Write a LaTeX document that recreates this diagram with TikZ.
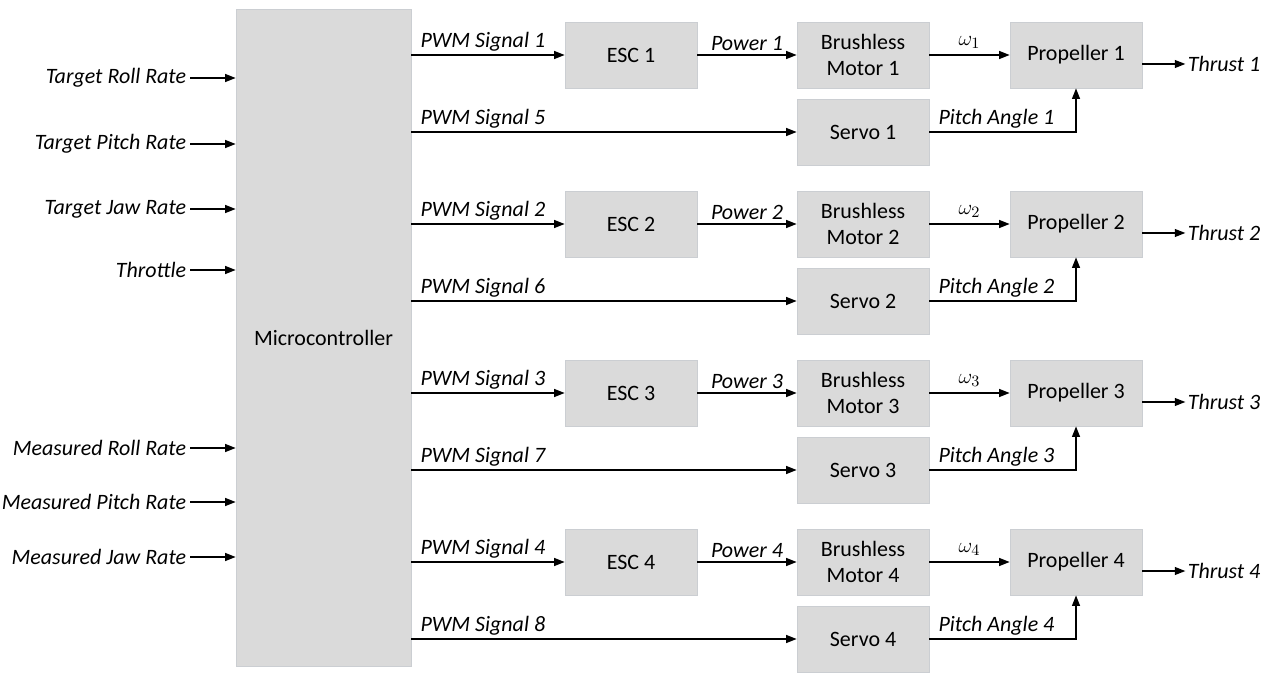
\documentclass[tikz,border=0pt]{standalone}
\usepackage{fontspec}
\setmainfont{Carlito}
\usetikzlibrary{arrows.meta, positioning}
\definecolor{boxgray}{RGB}{218,218,218}
\definecolor{edgegray}{RGB}{203,206,210}

\begin{document}
\begin{tikzpicture}[
x=0.02 cm,
y=-0.02 cm,
font=\fontsize{12.5}{14.8}\selectfont,
block/.style={
rectangle,
fill=boxgray,
draw=edgegray,
minimum width=2.64 cm,
minimum height=1.32 cm,
align=center,
inner sep=0 pt,
},
sig/.style={line width=0.8 pt, arrows={-Triangle[length=6pt, width=4.5pt]}},
lbl/.style={font=\fontsize{12.5}{14.8}\selectfont\itshape, inner sep=2 pt},
]
\useasboundingbox (0,0) rectangle (1266,678);

% microcontroller
\node [block, minimum width=3.5 cm, minimum height=13.14 cm] at (323.5,337.5) (mc)
{Microcontroller};

% set points and measurements
\foreach \name/\txt/\ypos in {trr/Target Roll Rate/78, tpr/Target Pitch Rate/144,
tjr/Target Jaw Rate/209, thr/Throttle/270, mrr/Measured Roll Rate/448,
mpr/Measured Pitch Rate/502, mjr/Measured Jaw Rate/557}
{
\node [lbl, anchor=east] at (190,\ypos) (\name) {\txt};
\draw [sig] (\name.east) -- (mc.west |- \name.east);
}

% one channel per rotor
\foreach \i/\yesc/\pwm in {1/55/5, 2/224/6, 3/393/7, 4/562/8}
{
\node [block] at (631,\yesc) (esc\i) {ESC \i};
\node [block] at (863,\yesc) (mot\i) {Brushless\\Motor \i};
\node [block] at (1076,\yesc) (prop\i) {Propeller \i};
\node [block] at (863,\yesc+77) (servo\i) {Servo \i};

\draw [sig] (mc.east |- esc\i.west) --
node[lbl, pos=0, anchor=south west, xshift=0.1 cm] {PWM Signal \i} (esc\i.west);
\draw [sig] (mc.east |- servo\i.west) --
node[lbl, pos=0, anchor=south west, xshift=0.1 cm] {PWM Signal \pwm} (servo\i.west);
\draw [sig] (esc\i) -- node[lbl, above] {Power \i} (mot\i);
\draw [sig] (mot\i) -- node[above] {$\omega_{\i}$} (prop\i);
\draw [sig] (servo\i) -|
node[lbl, pos=0, anchor=south west, xshift=0.1 cm] {Pitch Angle \i} (prop\i);
\draw [sig] ([yshift=-0.18 cm]prop\i.east) -- +(43,0)
node[lbl, right, inner sep=1 pt] (thrust\i) {Thrust \i};
}

\end{tikzpicture}
\end{document}
